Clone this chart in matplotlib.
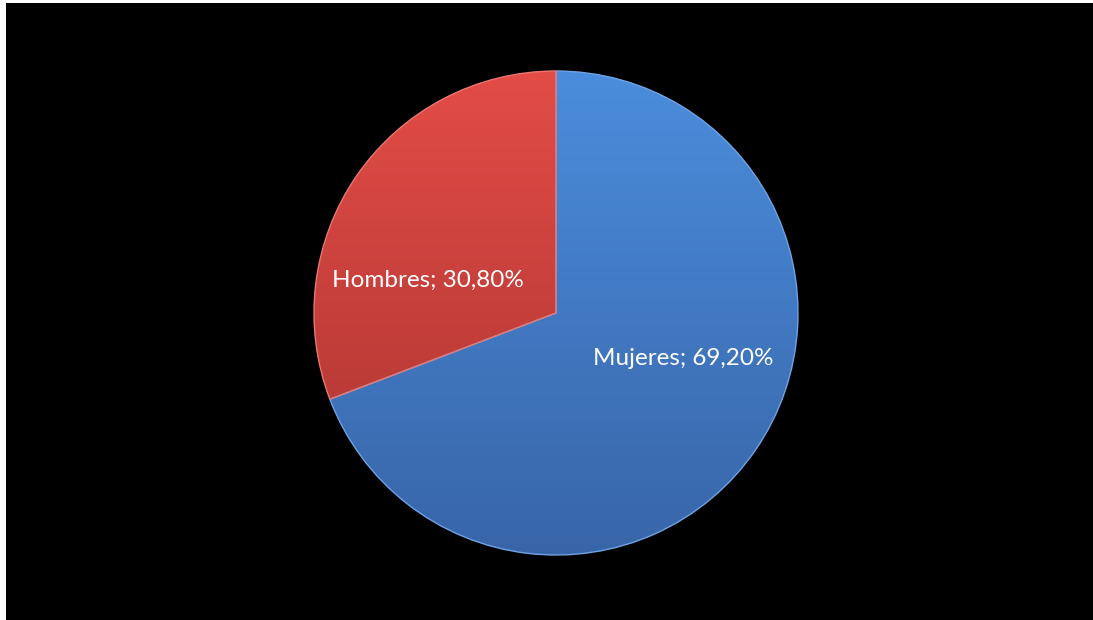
import matplotlib.pyplot as plt
import numpy as np
from matplotlib.colors import LinearSegmentedColormap
from matplotlib.patches import Rectangle

labels = ['Mujeres', 'Hombres']
values = [69.20, 30.80]
top_colors = ['#4b8ddc', '#e34c47']
bottom_colors = ['#3865a8', '#a8332f']
edge_colors = ['#6ea3e6', '#e87772']
label_pos = [(0.525, -0.19), (-0.53, 0.135)]

fig = plt.figure(figsize=(10.93, 6.20), dpi=100)
fig.patch.set_facecolor('black')

# thin white margin on top and left
fig.add_artist(Rectangle((0, 0), 6 / 1093, 1, transform=fig.transFigure,
                         facecolor='white', edgecolor='none'))
fig.add_artist(Rectangle((0, 1 - 3 / 620), 1, 3 / 620, transform=fig.transFigure,
                         facecolor='white', edgecolor='none'))

# pie axes: center (556, 313) px, radius ~242 px
r_px = 242
cx, cy = 556, 620 - 313
ax = fig.add_axes([(cx - r_px * 1.05) / 1093, (cy - r_px * 1.05) / 620,
                   2 * r_px * 1.05 / 1093, 2 * r_px * 1.05 / 620])
ax.set_facecolor('none')

wedges, _ = ax.pie(values, startangle=90, counterclock=False, radius=1,
                   wedgeprops=dict(linewidth=1.0))
ax.set_xlim(-1.05, 1.05)
ax.set_ylim(-1.05, 1.05)
ax.set_aspect('equal')
ax.axis('off')

grad = np.linspace(1, 0, 256).reshape(-1, 1)
for w, c_top, c_bot, c_edge in zip(wedges, top_colors, bottom_colors, edge_colors):
    w.set_edgecolor(c_edge)
    cmap = LinearSegmentedColormap.from_list('g', [c_bot, c_top])
    im = ax.imshow(grad, cmap=cmap, extent=[-1, 1, -1, 1], aspect='auto',
                   origin='upper', zorder=w.get_zorder() + 0.1)
    im.set_clip_path(w)
    w.set_zorder(w.get_zorder() + 0.2)
    w.set_facecolor('none')

for lab, val, (x, y) in zip(labels, values, label_pos):
    txt = f'{lab}; {val:.2f}%'.replace('.', ',')
    ax.text(x, y, txt, color='white', fontsize=17.5, family='Lato',
            ha='center', va='center', zorder=10)

fig.savefig('out.png', dpi=100, facecolor=fig.get_facecolor())
